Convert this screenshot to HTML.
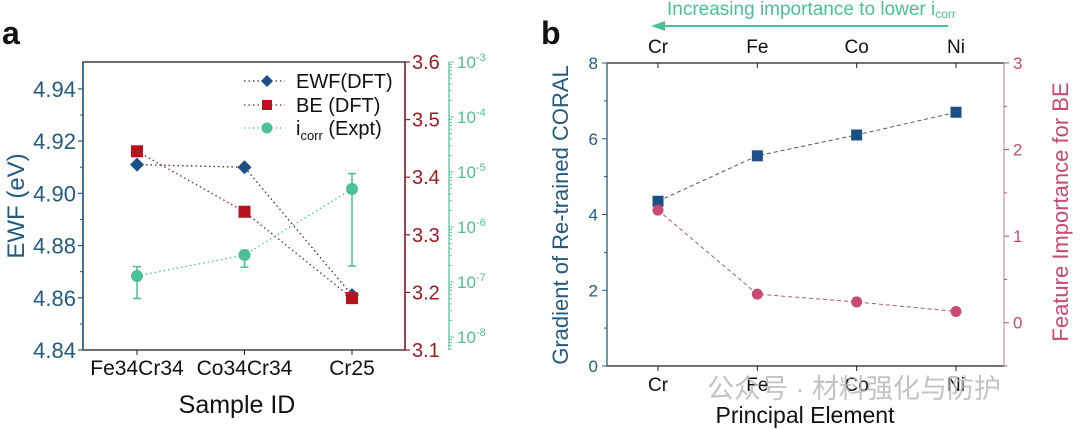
<!DOCTYPE html>
<html><head><meta charset="utf-8"><style>
html,body{margin:0;padding:0;background:#fff;}
svg{display:block;font-family:"Liberation Sans","Noto Sans CJK SC",sans-serif;}
</style></head><body>
<svg id="fig" width="1080" height="429" viewBox="0 0 1080 429" xmlns="http://www.w3.org/2000/svg"></svg>
<script>
// Panel a data
const samples = ["Fe34Cr34","Co34Cr34","Cr25"];
const ewf = [4.911, 4.910, 4.861];
const be = [3.445, 3.34, 3.19];
const icorrLog = [-6.89, -6.51, -5.31];
const icorrErrLo = [-7.30, -6.73, -6.71];
const icorrErrHi = [-6.72, -6.42, -5.03];
const ewfTicks = [4.84,4.86,4.88,4.90,4.92,4.94];
const beTicks = [3.1,3.2,3.3,3.4,3.5,3.6];
const logTicks = [-8,-7,-6,-5,-4,-3];
// Panel b data
const elements = ["Cr","Fe","Co","Ni"];
const gradient = [4.35, 5.55, 6.1, 6.7];
const featImp = [1.30, 0.33, 0.24, 0.13];
const gradTicks = [0,2,4,6,8];
const featTicks = [0,1,2,3];

const NS="http://www.w3.org/2000/svg";
const svg=document.getElementById('fig');
function mk(tag,attrs,parent){const e=document.createElementNS(NS,tag);for(const k in attrs)e.setAttribute(k,attrs[k]);(parent||svg).appendChild(e);return e;}
function txt(s,attrs,parent){const e=mk('text',attrs,parent);e.textContent=s;return e;}

const C_BLUE="#225a80", C_RED="#9a1c22", C_GREEN="#4cbf98", C_PINK="#c84a73", C_DB="#1b4f86";

// ---------- Panel a ----------
const A={l:83,r:405,t:62,b:350};
const ax=i=>137+i*(352-137)/2;
const yEWF=v=>A.b-(v-4.84)/(4.9503-4.84)*(A.b-A.t);
const yBE=v=>A.b-(v-3.1)/0.5*(A.b-A.t);
const yLog=v=>62+(-3-v)*55;

let g=mk('g',{});


let t=txt('a',{x:2,y:44,'font-size':32,'font-weight':'bold',fill:'#111'},g);

let r=mk('rect',{x:A.l,y:A.t,width:A.r-A.l,height:A.b-A.t,fill:'none',stroke:'#222','stroke-width':1.3},g);

ewfTicks.forEach(v=>{const y=yEWF(v);mk('line',{x1:A.l-5,x2:A.l,y1:y,y2:y,stroke:C_BLUE,'stroke-width':1.2},g);
 const e=txt(v.toFixed(2),{x:A.l-7,y:y+8,'text-anchor':'end','font-size':22,fill:C_BLUE},g);
 
 const m=yEWF(v+0.01); if(v<4.94) mk('line',{x1:A.l-3,x2:A.l,y1:m,y2:m,stroke:C_BLUE},g);});
mk('line',{x1:A.l,x2:A.l,y1:A.t,y2:A.b,stroke:C_BLUE,'stroke-width':1.5},g);
t=txt('EWF (eV)',{x:0,y:0,transform:'translate(24,206) rotate(-90)','text-anchor':'middle','font-size':24,fill:C_BLUE},g);

mk('line',{x1:A.r,x2:A.r,y1:A.t,y2:A.b,stroke:C_RED,'stroke-width':1.5},g);
beTicks.forEach(v=>{const y=yBE(v);mk('line',{x1:A.r,x2:A.r+5,y1:y,y2:y,stroke:C_RED,'stroke-width':1.2},g);
 const e=txt(v.toFixed(1),{x:A.r+7,y:y+7,'font-size':20,fill:C_RED},g);
 });
const LX=449;
mk('line',{x1:LX,x2:LX,y1:A.t,y2:A.b,stroke:C_GREEN,'stroke-width':1.2},g);
for(let d=-9;d<=-3;d++){for(let k=1;k<10;k++){const v=d+Math.log10(k);const y=yLog(v);if(y<A.t-0.5||y>A.b+0.5)continue;
 mk('line',{x1:LX,x2:LX+(k==1?5:3),y1:y,y2:y,stroke:C_GREEN,'stroke-width':0.8},g);}}
logTicks.forEach(v=>{const y=yLog(v);const e=txt('10',{x:LX+8,y:y+6,'font-size':17,fill:C_GREEN},g);
 const s=mk('tspan',{dy:-7,'font-size':11},e);s.textContent=String(v);
 });
samples.forEach((s,i)=>{const x=ax(i);mk('line',{x1:x,x2:x,y1:A.b,y2:A.b+5,stroke:'#222'},g);
 const e=txt(s,{x:x,y:A.b+25,'text-anchor':'middle','font-size':21,fill:'#111'},g);
 });
t=txt('Sample ID',{x:237,y:413,'text-anchor':'middle','font-size':25,fill:'#111'},g);

function pl(xs,ys,col,dash,name){const p=mk('polyline',{points:xs.map((x,i)=>x+','+ys[i]).join(' '),fill:'none',stroke:col,'stroke-width':1.3,'stroke-dasharray':dash},g);}
pl(samples.map((s,i)=>ax(i)),ewf.map(yEWF),'#333','1.5 3','ewf-line');
pl(samples.map((s,i)=>ax(i)),be.map(yBE),'#7a2a2a','1.5 3','be-line');
pl(samples.map((s,i)=>ax(i)),icorrLog.map(yLog),C_GREEN,'1.5 3','icorr-line');
icorrLog.forEach((v,i)=>{const x=ax(i),y1=yLog(icorrErrHi[i]),y2=yLog(icorrErrLo[i]);
 const e=mk('path',{d:`M${x},${y1}V${y2}M${x-4},${y1}H${x+4}M${x-4},${y2}H${x+4}`,stroke:C_GREEN,'stroke-width':1.5,fill:'none'},g);
 });
ewf.forEach((v,i)=>{const x=ax(i),y=yEWF(v);const m=mk('path',{d:`M${x},${y-7}L${x+7},${y}L${x},${y+7}L${x-7},${y}Z`,fill:C_DB},g);
 });
icorrLog.forEach((v,i)=>{const m=mk('circle',{cx:ax(i),cy:yLog(v),r:6,fill:C_GREEN},g);
 });
be.forEach((v,i)=>{const x=ax(i),y=yBE(v);const m=mk('rect',{x:x-6,y:y-6,width:12,height:12,fill:'#b5141c'},g);
 });
const lg=mk('g',{},g);
[['EWF(DFT)',81,'d',C_DB],['BE (DFT)',105,'s','#b5141c'],['(Expt)',128,'c',C_GREEN]].forEach(([lab,y,sh,col],i)=>{
 mk('line',{x1:244,x2:285,y1:y,y2:y,stroke:i==2?C_GREEN:(i==1?'#7a2a2a':'#333'),'stroke-dasharray':'1.5 3','stroke-width':1.3},lg);
 if(sh=='d')mk('path',{d:`M267,${y-6}L273,${y}L267,${y+6}L261,${y}Z`,fill:col},lg);
 if(sh=='s')mk('rect',{x:262,y:y-5,width:10,height:10,fill:col},lg);
 if(sh=='c')mk('circle',{cx:267,cy:y,r:5.5,fill:col},lg);
 let e;
 if(i==2){e=txt('i',{x:296,y:y+7,'font-size':20,fill:'#111'},lg);const s=mk('tspan',{dy:5,'font-size':13},e);s.textContent='corr';const s2=mk('tspan',{dy:-5,'font-size':20},e);s2.textContent=' (Expt)';}
 else e=txt(lab,{x:296,y:y+7,'font-size':20,fill:'#111'},lg);
 });

// ---------- Panel b ----------
const B={l:607,r:1004,t:63,b:366};
const bx=i=>658+i*(956-658)/3;
const yG=v=>B.b-v/8*(B.b-B.t);
const yF=v=>B.b-(v+0.5)/3.5*(B.b-B.t);
const gb=mk('g',{});
t=txt('b',{x:541,y:44,'font-size':32,'font-weight':'bold',fill:'#111'},gb);

mk('line',{x1:B.l,x2:B.r,y1:B.t,y2:B.t,stroke:'#222','stroke-width':1.3},gb);
mk('line',{x1:B.l,x2:B.r,y1:B.b,y2:B.b,stroke:'#222','stroke-width':1.3},gb);
mk('line',{x1:B.l,x2:B.l,y1:B.t,y2:B.b,stroke:C_BLUE,'stroke-width':1.3},gb);
mk('line',{x1:B.r,x2:B.r,y1:B.t,y2:B.b,stroke:'#d49aae','stroke-width':1.3},gb);
gradTicks.forEach(v=>{const y=yG(v);mk('line',{x1:B.l-5,x2:B.l,y1:y,y2:y,stroke:C_BLUE},gb);
 if(v<8){const m=yG(v+1);mk('line',{x1:B.l-3,x2:B.l,y1:m,y2:m,stroke:C_BLUE},gb);}
 const e=txt(String(v),{x:B.l-9,y:y+6,'text-anchor':'end','font-size':17,fill:C_BLUE},gb);
 });
featTicks.forEach(v=>{const y=yF(v);mk('line',{x1:B.r,x2:B.r+5,y1:y,y2:y,stroke:C_PINK},gb);
 const m=yF(v-0.5);mk('line',{x1:B.r,x2:B.r+3,y1:m,y2:m,stroke:C_PINK},gb);
 const e=txt(String(v),{x:B.r+9,y:y+6,'font-size':17,fill:C_PINK},gb);
 });
t=txt('Gradient of Re-trained CORAL',{x:0,y:0,transform:'translate(568,215) rotate(-90)','text-anchor':'middle','font-size':22,fill:C_BLUE},gb);

t=txt('Feature Importance for BE',{x:0,y:0,transform:'translate(1068,212) rotate(-90)','text-anchor':'middle','font-size':22,fill:C_PINK},gb);

elements.forEach((s,i)=>{const x=bx(i);
 mk('line',{x1:x,x2:x,y1:B.b,y2:B.b+5,stroke:'#222'},gb);mk('line',{x1:x,x2:x,y1:B.t,y2:B.t+5,stroke:'#222'},gb);
 let e=txt(s,{x:x,y:B.b+25,'text-anchor':'middle','font-size':19,fill:'#111'},gb);
 
 e=txt(s,{x:x,y:53,'text-anchor':'middle','font-size':19,fill:'#111'},gb);
 });
t=txt('Principal Element',{x:805,y:423,'text-anchor':'middle','font-size':23,fill:'#111'},gb);

const an=mk('g',{},gb);
mk('line',{x1:948,x2:660,y1:26,y2:26,stroke:C_GREEN,'stroke-width':2},an);
mk('path',{d:'M651,26L665,21L665,31Z',fill:C_GREEN},an);
t=txt('Increasing importance to lower i',{x:667,y:15,'font-size':19,fill:C_GREEN},an);
let sp=mk('tspan',{dy:3,'font-size':12},t);sp.textContent='corr';

let p=mk('polyline',{points:elements.map((s,i)=>bx(i)+','+yG(gradient[i])).join(' '),fill:'none',stroke:'#555','stroke-dasharray':'4 3','stroke-width':1},gb);

p=mk('polyline',{points:elements.map((s,i)=>bx(i)+','+yF(featImp[i])).join(' '),fill:'none',stroke:'#a06070','stroke-dasharray':'4 3','stroke-width':1},gb);

gradient.forEach((v,i)=>{const m=mk('rect',{x:bx(i)-5.5,y:yG(v)-5.5,width:11,height:11,fill:C_DB},gb);
 });
featImp.forEach((v,i)=>{const m=mk('circle',{cx:bx(i),cy:yF(v),r:5.5,fill:C_PINK},gb);
 });
t=txt('公众号 · 材料强化与防护',{x:707,y:398,'font-size':27,fill:'#b8b8b8','fill-opacity':0.85},gb);

</script>
</body></html>
